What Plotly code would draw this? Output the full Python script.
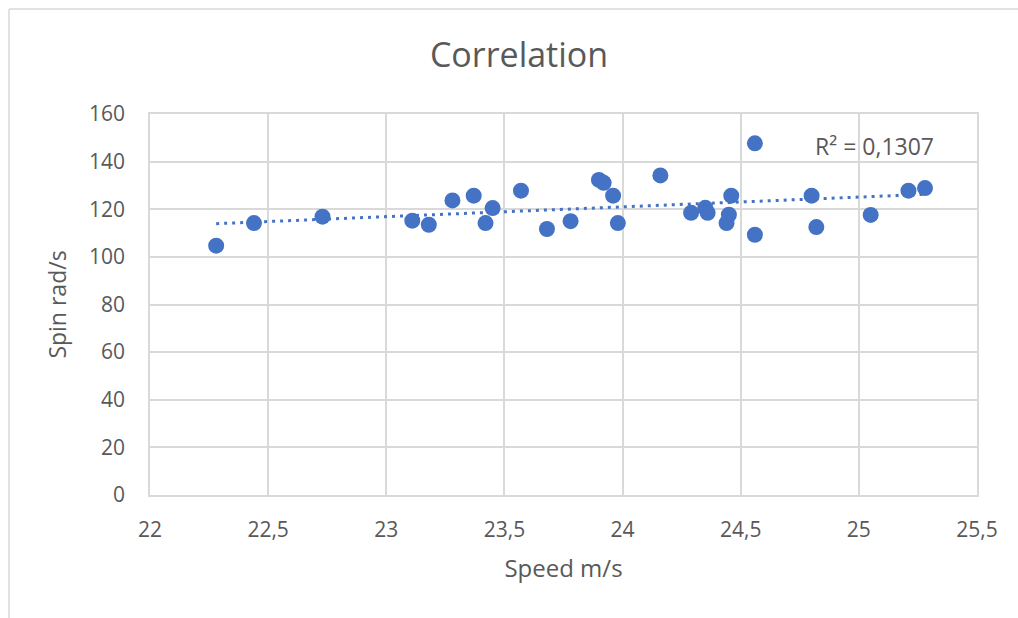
import numpy as np
import plotly.graph_objects as go

# Measured speed (m/s) and spin (rad/s) per shot
speed = [22.28, 22.44, 22.73, 23.11, 23.18, 23.28, 23.37, 23.45, 23.42, 23.57,
         23.68, 23.78, 23.90, 23.92, 23.96, 23.98, 24.16, 24.29, 24.35, 24.36,
         24.46, 24.45, 24.44, 24.56, 24.56, 24.80, 24.82, 25.05, 25.21, 25.28]
spin = [104.7, 114.2, 116.9, 115.2, 113.5, 123.7, 125.7, 120.5, 114.2, 127.8,
        111.7, 115.0, 132.3, 131.1, 125.7, 114.2, 134.2, 118.5, 120.6, 118.5,
        125.7, 117.7, 114.2, 147.7, 109.3, 125.7, 112.5, 117.6, 127.8, 128.9]

r2_label = "R² = 0,1307"
x_ticks = [22, 22.5, 23, 23.5, 24, 24.5, 25, 25.5]
y_ticks = [0, 20, 40, 60, 80, 100, 120, 140, 160]

BLUE = "#4472C4"
GRID = "#D9D9D9"
TEXT = "#595959"
FONT = "Open Sans"

# Linear least-squares trendline across the observed speed range
slope, intercept = np.polyfit(speed, spin, 1)
trend_x = [min(speed), max(speed)]
trend_y = [slope * v + intercept for v in trend_x]

fig = go.Figure()
fig.add_trace(go.Scatter(
    x=trend_x, y=trend_y, mode="lines",
    line=dict(color=BLUE, width=3, dash="3px,5px"),
    hoverinfo="skip", showlegend=False,
))
fig.add_trace(go.Scatter(
    x=speed, y=spin, mode="markers",
    marker=dict(color=BLUE, size=16, line=dict(width=0)),
    showlegend=False,
))

W, H = 1018, 618
ml, mr, mt, mb = 150, 41, 114, 123
pw, ph = W - ml - mr, H - mt - mb

def px_to_paper_x(px):
    return (px - ml) / pw

def px_to_paper_y(py):
    return (H - mb - py) / ph

# Chart-area frame along the top and left edges
frame = dict(color=GRID, width=1.5)
fig.add_shape(type="line", xref="paper", yref="paper",
              x0=px_to_paper_x(9), x1=px_to_paper_x(W + 5),
              y0=px_to_paper_y(9), y1=px_to_paper_y(9), line=frame)
fig.add_shape(type="line", xref="paper", yref="paper",
              x0=px_to_paper_x(9), x1=px_to_paper_x(9),
              y0=px_to_paper_y(9), y1=px_to_paper_y(H + 5), line=frame)

fig.add_annotation(
    x=px_to_paper_x(874), y=px_to_paper_y(146), xref="paper", yref="paper",
    text=r2_label, showarrow=False, xanchor="center", yanchor="middle",
    font=dict(family=FONT, size=23, color=TEXT),
)

fig.update_layout(
    width=W, height=H,
    margin=dict(l=ml, r=mr, t=mt, b=mb),
    paper_bgcolor="white", plot_bgcolor="white",
    separators=",.",
    font=dict(family=FONT, color=TEXT),
    title=dict(text="Correlation", x=519 / W, xanchor="center",
               y=1 - 55 / H, yanchor="middle",
               font=dict(family=FONT, size=34, color=TEXT)),
    xaxis=dict(
        range=[22, 25.5], tickvals=x_ticks, showgrid=True, gridcolor=GRID,
        gridwidth=1.5, zeroline=False, showline=True, linecolor=GRID,
        linewidth=1.5, mirror=True, ticks="", ticklabelstandoff=15,
        tickfont=dict(family=FONT, size=21, color=TEXT),
        title=dict(text="Speed m/s", standoff=18,
                   font=dict(family=FONT, size=24, color=TEXT)),
    ),
    yaxis=dict(
        range=[0, 160], tickvals=y_ticks, showgrid=True, gridcolor=GRID,
        gridwidth=1.5, zeroline=False, showline=True, linecolor=GRID,
        linewidth=1.5, mirror=True, ticks="", ticklabelstandoff=19,
        tickfont=dict(family=FONT, size=21, color=TEXT),
        title=dict(text="Spin rad/s", standoff=16,
                   font=dict(family=FONT, size=23, color=TEXT)),
    ),
)

fig.write_html("out.html")
